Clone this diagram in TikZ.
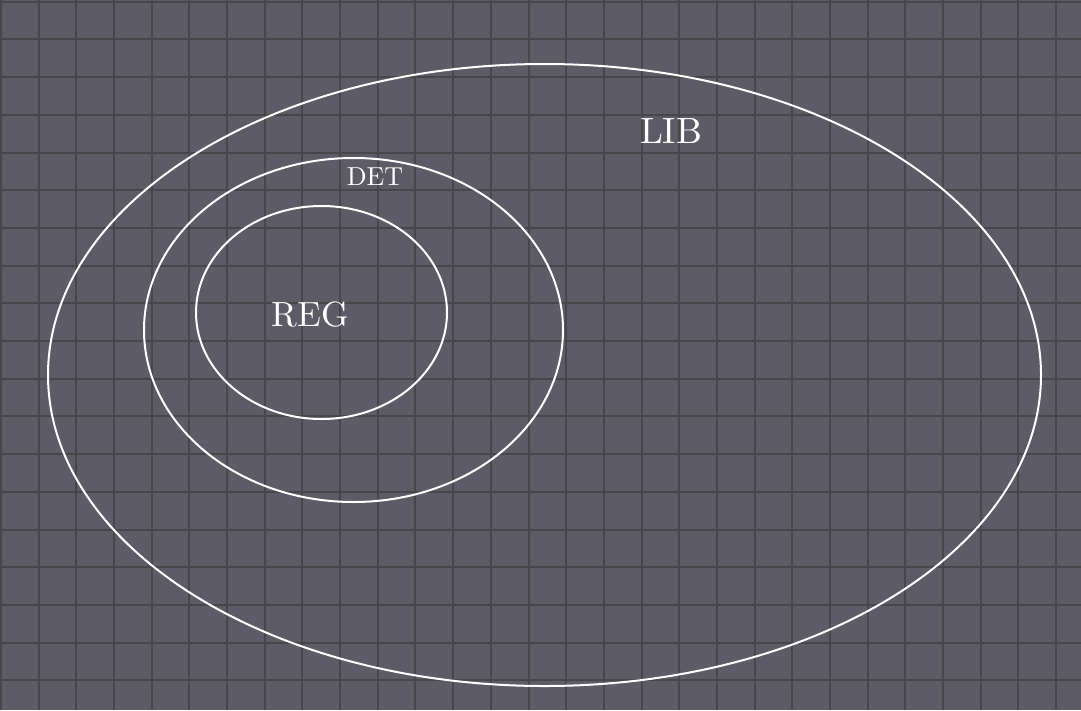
\documentclass[tikz,border=0pt]{standalone}
\usetikzlibrary{shapes.geometric}
\definecolor{bgc}{RGB}{92,91,102}
\definecolor{gridc}{RGB}{70,70,75}
\tikzset{
  setbox/.style={draw=white, line width=2pt},
  setlabel/.style={text=white, inner sep=0pt, anchor=center, font=\fontsize{10}{12}\selectfont},
}
\begin{document}
\begin{tikzpicture}[x=1pt,y=-1pt]
\fill[bgc] (0,0) rectangle (1081,710);
\useasboundingbox (0,0) rectangle (1081,710);
\foreach \i in {0,...,28} {\draw[gridc, line width=2pt] ({1+37.68*\i},0) -- ({1+37.68*\i},710);}
\foreach \j in {0,...,18} {\draw[gridc, line width=2pt] (0,{1.7+37.7*\j}) -- (1081,{1.7+37.7*\j});}
\node[setbox, ellipse, minimum width=993pt, minimum height=622pt, inner sep=0pt] (lib) at (544.5,375) {};
\node[setbox, ellipse, minimum width=419pt, minimum height=344pt, inner sep=0pt] (det) at (353.5,330) {};
\node[setbox, ellipse, minimum width=251pt, minimum height=213pt, inner sep=0pt] (reg) at (321.5,312.5) {};
\node[setlabel, scale=3.66] (libl) at (671,131) {LIB};
\node[setlabel, scale=2.6] (detl) at (375,177) {DET};
\node[setlabel, scale=3.5] (regl) at (310,315) {REG};
\end{tikzpicture}
\end{document}
